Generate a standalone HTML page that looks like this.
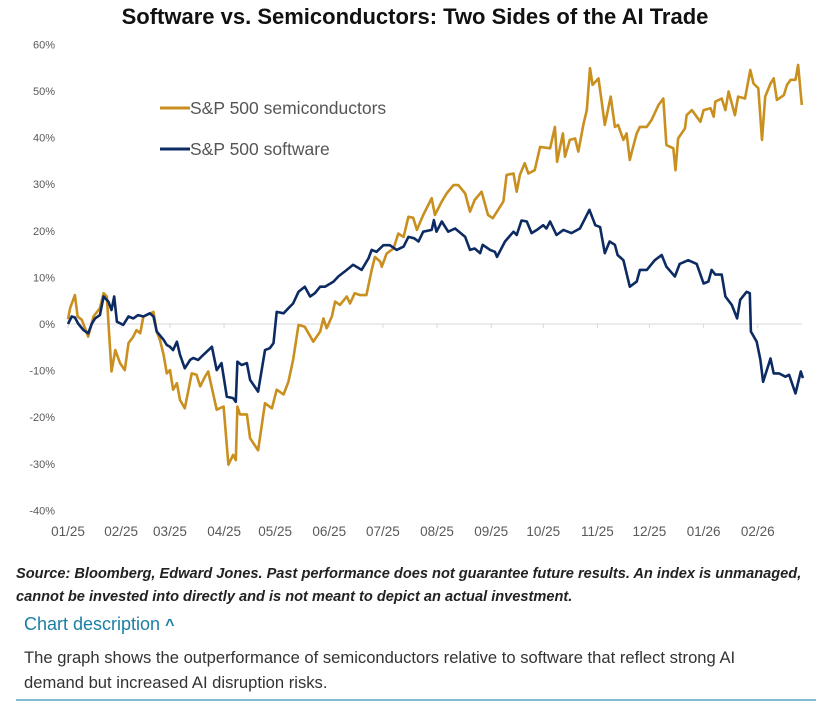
<!DOCTYPE html>
<html><head><meta charset="utf-8">
<style>
body{margin:0;background:#fff;width:830px;height:714px;overflow:hidden;font-family:"Liberation Sans",sans-serif;position:relative}
.t{position:absolute;white-space:nowrap}
</style></head>
<body>
<div class="t" style="left:0;width:830px;text-align:center;top:4px;font-size:22px;font-weight:bold;color:#111">Software vs. Semiconductors: Two Sides of the AI Trade</div>
<svg id="chart" width="830" height="550" style="position:absolute;left:0;top:0"></svg>
<div class="t" style="left:16px;top:563px;font-size:14.6px;font-style:italic;font-weight:bold;color:#222;line-height:23px">Source: Bloomberg, Edward Jones. Past performance does not guarantee future results. An index is unmanaged,<br>cannot be invested into directly and is not meant to depict an actual investment.</div>
<div class="t" style="left:24px;top:614px;font-size:18px;color:#1a7fa3">Chart description <span style="font-size:16px;font-weight:bold">^</span></div>
<div class="t" style="left:24px;top:646px;font-size:16.6px;color:#333;line-height:24.5px">The graph shows the outperformance of semiconductors relative to software that reflect strong AI<br>demand but increased AI disruption risks.</div>
<div style="position:absolute;left:16px;top:699px;width:800px;height:2px;background:#80bbd2"></div>
<script>
const xLabels=["01/25","02/25","03/25","04/25","05/25","06/25","07/25","08/25","09/25","10/25","11/25","12/25","01/26","02/26"];
const xTickPos=[0,1,1.92,2.94,3.9,4.92,5.93,6.95,7.97,8.95,9.97,10.95,11.97,12.99];
const yTicks=[60,50,40,30,20,10,0,-10,-20,-30,-40];
const semiM=[0,0.04,0.13,0.18,0.26,0.38,0.48,0.6,0.67,0.73,0.82,0.89,0.98,1.07,1.14,1.23,1.29,1.36,1.42,1.61,1.67,1.73,1.8,1.86,1.92,1.98,2.05,2.11,2.2,2.27,2.33,2.42,2.49,2.58,2.64,2.8,2.93,3.02,3.11,3.16,3.19,3.24,3.37,3.43,3.58,3.71,3.84,3.93,4.06,4.15,4.24,4.34,4.46,4.53,4.62,4.75,4.81,4.87,4.97,5.03,5.12,5.25,5.31,5.4,5.5,5.62,5.72,5.78,5.88,5.91,6.0,6.13,6.22,6.32,6.41,6.5,6.57,6.69,6.85,6.91,7.04,7.13,7.26,7.35,7.48,7.57,7.66,7.79,7.91,8.0,8.2,8.26,8.39,8.45,8.51,8.6,8.67,8.79,8.89,9.08,9.17,9.21,9.32,9.36,9.45,9.55,9.61,9.71,9.77,9.83,9.88,9.99,10.05,10.11,10.22,10.3,10.36,10.46,10.52,10.58,10.61,10.71,10.77,10.9,10.99,11.12,11.21,11.27,11.4,11.44,11.49,11.62,11.65,11.75,11.91,11.97,12.1,12.16,12.19,12.31,12.38,12.44,12.56,12.62,12.75,12.85,12.91,13.0,13.07,13.13,13.23,13.29,13.35,13.48,13.54,13.61,13.7,13.75,13.82];
const semiV=[1,3.4,6.2,1.6,0.9,-2.7,1.6,3.4,6.6,5.9,-10.2,-5.6,-8.4,-9.9,-4.1,-2.7,-1.3,-2,1.6,2.6,-1.6,-3.4,-6.6,-10.6,-9.9,-14.1,-12.7,-16.3,-18.1,-14.1,-10.6,-10.9,-13.4,-11.3,-10.2,-18.4,-17.7,-30.2,-28.1,-29.2,-17.7,-19.4,-19.4,-24.5,-27.1,-17,-18.1,-14.1,-15.1,-12.4,-7.7,-0.2,-0.6,-2,-3.8,-1.6,1.2,-0.9,1.6,4.8,4.1,5.9,4.4,6.6,6.2,6.2,11.6,14.4,13.4,12.3,15.1,16.2,19.4,18.7,23,22.8,20.2,23.4,27,23.4,26.3,28,29.8,29.8,28,24.1,26.6,28.4,23.4,22.7,26.3,32,32.3,28.4,32,34.5,32.3,33,38,37.7,42.3,34.8,40.9,35.9,39.5,39.8,37,43,45.9,54.9,51.3,52.7,47.7,42.7,48.8,42.3,42.7,39.5,40.9,35.2,36.6,40.9,42.3,42.3,43.8,47,48.4,38.4,37.7,33,39.8,42,44.8,45.9,43.4,45.9,46.3,44.5,47.7,48.4,45.9,49.9,44.8,48.8,48.4,54.5,51.6,50.6,39.5,48.8,51.6,52.7,48.1,49.1,51.3,52.4,52.4,55.6,47];
const softM=[0,0.07,0.13,0.19,0.29,0.38,0.45,0.51,0.6,0.67,0.76,0.82,0.87,0.92,1.04,1.14,1.23,1.32,1.42,1.54,1.61,1.67,1.8,1.86,1.92,1.98,2.05,2.11,2.2,2.3,2.36,2.45,2.55,2.71,2.8,2.89,2.99,3.11,3.16,3.19,3.27,3.37,3.43,3.58,3.71,3.8,3.87,3.93,4.06,4.15,4.24,4.34,4.46,4.56,4.65,4.75,4.84,5.0,5.09,5.25,5.37,5.53,5.66,5.72,5.81,5.94,6.06,6.19,6.32,6.41,6.52,6.6,6.69,6.85,6.89,6.94,7.04,7.16,7.29,7.48,7.57,7.66,7.76,7.81,7.95,8.04,8.08,8.23,8.39,8.45,8.54,8.64,8.73,8.83,8.95,9.01,9.08,9.2,9.33,9.48,9.64,9.74,9.82,9.87,9.93,10.02,10.11,10.2,10.3,10.35,10.46,10.58,10.71,10.77,10.9,11.05,11.18,11.27,11.43,11.52,11.68,11.84,11.97,12.06,12.12,12.19,12.31,12.38,12.5,12.6,12.66,12.78,12.84,12.86,12.97,13.04,13.09,13.23,13.29,13.39,13.51,13.58,13.7,13.8,13.84];
const softV=[0,1.6,1.4,0.1,-1.3,-2,0.1,1.2,1.9,5.9,4.8,3,5.9,0.5,-0.2,1.6,1.2,1.9,1.6,2.3,1.6,-1.6,-3.4,-4.5,-4.9,-5.6,-3.8,-6.6,-9.5,-7.7,-7.3,-7.7,-6.6,-4.9,-9.9,-8.4,-15.6,-15.9,-16.7,-8.1,-8.8,-8.4,-12,-14.5,-5.6,-5.2,-4.1,2.6,2.3,3.4,4.4,6.9,8,5.9,6.6,8,8,9.1,10.2,11.6,12.7,11.6,14.1,15.9,15.5,16.9,16.9,15.9,16.6,18.7,18.4,17.7,19.8,20.2,22.3,19.8,22,19.8,20.5,18.7,15.9,16.2,15.2,17,15.9,15.5,14.4,17.7,19.8,19.1,22.2,22,19.5,20.2,21.2,20.5,22,19.1,20.2,19.5,20.5,22.7,24.5,23,21.2,20.8,15.2,17.7,17,14.8,13.7,8,9.1,11.6,11.6,13.7,14.8,12.3,10.2,12.9,13.7,12.9,8.7,9.1,11.6,10.6,10.6,5.9,4.1,1.2,5.2,6.9,6.6,-1.6,-3.8,-7.7,-12.4,-7.4,-10.6,-10.6,-11.3,-10.9,-14.9,-10.2,-11.6];
const NS="http://www.w3.org/2000/svg";
const svg=document.getElementById('chart');
const xS=m=>68+m*53.1;
const yS=v=>324-v*4.66;
function mk(tag,attrs){const e=document.createElementNS(NS,tag);for(const k in attrs)e.setAttribute(k,attrs[k]);svg.appendChild(e);return e;}
const zl=mk('line',{x1:68,x2:802,y1:yS(0),y2:yS(0),stroke:'#d9d9d9','stroke-width':1});


xTickPos.forEach((p,i)=>{
  const tk=mk('line',{x1:xS(p),x2:xS(p),y1:yS(0),y2:yS(0)+4,stroke:'#d9d9d9'});
  
  
  const t=mk('text',{x:xS(p),y:536,'text-anchor':'middle','font-size':13.5,fill:'#595959','font-family':'Liberation Sans, sans-serif'});
  t.textContent=xLabels[i];
  
  
});
yTicks.forEach(v=>{
  const t=mk('text',{x:55,y:yS(v)+4,'text-anchor':'end','font-size':11,fill:'#595959','font-family':'Liberation Sans, sans-serif'});
  t.textContent=v+'%';
  
  
});
function line(M,V,c,name){
  const d=M.map((m,i)=>(i?'L':'M')+xS(m).toFixed(1)+','+yS(V[i]).toFixed(1)).join('');
  const p=mk('path',{d:d,fill:'none',stroke:c,'stroke-width':2.6,'stroke-linejoin':'round'});
  
  
}
line(semiM,semiV,'#c98f1f','semiconductors-line');
line(softM,softV,'#0d2b63','software-line');
const l1=mk('line',{x1:160,x2:190,y1:108,y2:108,stroke:'#c98f1f','stroke-width':3});


const t1=mk('text',{x:190,y:114,'font-size':17.5,fill:'#555','font-family':'Liberation Sans, sans-serif'});
t1.textContent='S&P 500 semiconductors';


const l2=mk('line',{x1:160,x2:190,y1:149,y2:149,stroke:'#0d2b63','stroke-width':3});


const t2=mk('text',{x:190,y:155,'font-size':17.5,fill:'#555','font-family':'Liberation Sans, sans-serif'});
t2.textContent='S&P 500 software';


</script>
</body></html>
